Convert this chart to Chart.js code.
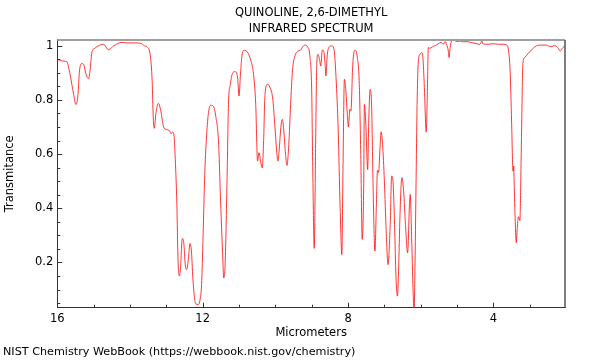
<!DOCTYPE html>
<html>
<head>
<meta charset="utf-8">
<script src="https://cdn.jsdelivr.net/npm/chart.js@4.4.1/dist/chart.umd.min.js"></script>
<style>
	html, body { margin: 0; background: #fff; }
	#wrap { width: 600px; height: 360px; }
</style>
</head>
<body>
<div id="wrap"><canvas id="chartCanvas" width="600" height="360"></canvas></div>
<script>
const titleLines = ["QUINOLINE, 2,6-DIMETHYL", "INFRARED SPECTRUM"]
const footer = "NIST Chemistry WebBook (https://webbook.nist.gov/chemistry)"

const micrometers = [
	16.00, 15.92, 15.83, 15.74, 15.65, 15.55, 15.49, 15.43, 15.39, 15.32,
	15.27, 15.21, 15.14, 15.10, 15.05, 14.98, 14.83, 14.73, 14.59, 14.45,
	14.22, 14.08, 13.86, 13.69, 13.60, 13.53, 13.44, 13.39, 13.36, 13.33,
	13.29, 13.22, 13.16, 13.08, 13.01, 12.92, 12.87, 12.83, 12.79, 12.76,
	12.71, 12.68, 12.64, 12.61, 12.56, 12.52, 12.48, 12.44, 12.39, 12.35,
	12.31, 12.27, 12.23, 12.19, 12.12, 12.08, 12.03, 11.99, 11.94, 11.89,
	11.84, 11.78, 11.71, 11.64, 11.56, 11.51, 11.45, 11.42, 11.38, 11.33,
	11.29, 11.24, 11.18, 11.11, 11.04, 11.00, 10.96, 10.92, 10.85, 10.76,
	10.67, 10.60, 10.54, 10.49, 10.45, 10.40, 10.36, 10.32, 10.29, 10.22,
	10.15, 10.07, 10.01, 9.96, 9.93, 9.89, 9.85, 9.81, 9.77, 9.72,
	9.68, 9.63, 9.58, 9.53, 9.46, 9.38, 9.31, 9.25, 9.19, 9.11,
	9.05, 9.00, 8.97, 8.93, 8.89, 8.86, 8.83, 8.79, 8.75, 8.71,
	8.67, 8.63, 8.61, 8.57, 8.51, 8.44, 8.38, 8.33, 8.27, 8.22,
	8.17, 8.14, 8.10, 8.06, 8.02, 7.99, 7.95, 7.92, 7.87, 7.81,
	7.75, 7.69, 7.65, 7.61, 7.57, 7.55, 7.51, 7.46, 7.43, 7.39,
	7.35, 7.31, 7.26, 7.22, 7.19, 7.16, 7.12, 7.09, 7.05, 7.00,
	6.95, 6.90, 6.84, 6.80, 6.76, 6.72, 6.68, 6.64, 6.61, 6.57,
	6.52, 6.47, 6.42, 6.36, 6.31, 6.29, 6.25, 6.20, 6.18, 6.16,
	6.13, 6.10, 6.07, 6.02, 5.97, 5.94, 5.90, 5.86, 5.85, 5.82,
	5.79, 5.75, 5.68, 5.63, 5.57, 5.52, 5.44, 5.38, 5.33, 5.29,
	5.24, 5.22, 5.19, 5.15, 5.08, 5.01, 4.92, 4.83, 4.73, 4.60,
	4.46, 4.37, 4.32, 4.28, 4.14, 4.00, 3.86, 3.73, 3.63, 3.59,
	3.54, 3.50, 3.46, 3.44, 3.43, 3.40, 3.37, 3.35, 3.31, 3.27,
	3.25, 3.22, 3.19, 3.14, 3.05, 2.96, 2.82, 2.68, 2.55, 2.41,
	2.32, 2.23, 2.16, 2.09, 2.03,
]

const transmittance = [
	0.949, 0.946, 0.943, 0.941, 0.894, 0.820, 0.783, 0.820, 0.907, 0.934,
	0.929, 0.894, 0.878, 0.907, 0.974, 0.989, 1.002, 1.005, 0.985, 0.999,
	1.012, 1.010, 1.010, 1.008, 0.999, 0.995, 0.962, 0.870, 0.734, 0.695,
	0.746, 0.787, 0.765, 0.703, 0.691, 0.687, 0.675, 0.681, 0.670, 0.599,
	0.414, 0.217, 0.150, 0.180, 0.288, 0.273, 0.192, 0.174, 0.217, 0.270,
	0.242, 0.143, 0.076, 0.047, 0.045, 0.057, 0.119, 0.291, 0.537, 0.672,
	0.753, 0.780, 0.777, 0.740, 0.636, 0.439, 0.229, 0.143, 0.200, 0.500,
	0.783, 0.857, 0.897, 0.904, 0.882, 0.814, 0.894, 0.962, 0.983, 0.974,
	0.943, 0.894, 0.783, 0.574, 0.605, 0.568, 0.549, 0.660, 0.808, 0.857,
	0.847, 0.802, 0.697, 0.605, 0.574, 0.623, 0.697, 0.728, 0.691, 0.599,
	0.558, 0.636, 0.783, 0.907, 0.962, 0.980, 0.983, 0.995, 1.002, 0.995,
	0.962, 0.833, 0.537, 0.252, 0.660, 0.931, 0.968, 0.953, 0.925, 0.983,
	0.980, 0.931, 0.888, 0.968, 0.996, 0.999, 0.980, 0.882, 0.685, 0.414,
	0.229, 0.537, 0.876, 0.833, 0.746, 0.700, 0.765, 0.759, 0.931, 0.983,
	0.962, 0.857, 0.599, 0.285, 0.476, 0.783, 0.709, 0.543, 0.722, 0.839,
	0.771, 0.476, 0.242, 0.414, 0.540, 0.531, 0.623, 0.682, 0.636, 0.500,
	0.316, 0.192, 0.340, 0.519, 0.494, 0.340, 0.143, 0.076, 0.168, 0.377,
	0.513, 0.463, 0.340, 0.236, 0.414, 0.451, 0.291, 0.057, 0.020, 0.168,
	0.476, 0.783, 0.931, 0.968, 0.974, 0.956, 0.845, 0.697, 0.681, 0.808,
	0.993, 0.990, 0.995, 0.999, 1.002, 1.007, 1.012, 1.005, 1.015, 1.005,
	0.980, 0.956, 0.993, 1.017, 1.020, 1.015, 1.017, 1.014, 1.015, 1.011,
	1.007, 1.005, 1.017, 1.006, 1.005, 1.007, 1.005, 1.005, 1.002, 0.987,
	0.907, 0.722, 0.537, 0.556, 0.500, 0.353, 0.273, 0.316, 0.369, 0.355,
	0.476, 0.722, 0.931, 0.956, 0.970, 0.983, 0.999, 1.002, 1.002, 0.996,
	1.000, 0.993, 0.980, 0.993, 0.999,
]

const xTicks = [16, 12, 8, 4]
const yTicks = [0.2, 0.4, 0.6, 0.8, 1]
const xMinorStep = 1
const yMinorStep = 0.05

Chart.defaults.font.family = "'DejaVu Sans', sans-serif"
Chart.defaults.font.size = 11.5
Chart.defaults.color = '#000'

// frame on top/right and inward tick marks, like the NIST plots
const framePlugin = {
	id: 'frame',
	afterDraw(chart) {
		const ctx = chart.ctx
		const a = chart.chartArea
		const xs = chart.scales.x
		const ys = chart.scales.y
		ctx.save()
		ctx.strokeStyle = '#a0a0a0'
		ctx.lineWidth = 2
		ctx.beginPath()
		ctx.moveTo(a.left, a.top)
		ctx.lineTo(a.right, a.top)
		ctx.stroke()
		ctx.strokeStyle = '#555'
		ctx.lineWidth = 1.5
		ctx.beginPath()
		ctx.moveTo(a.right, a.top)
		ctx.lineTo(a.right, a.bottom)
		ctx.stroke()

		ctx.strokeStyle = '#333'
		ctx.lineWidth = 1
		ctx.beginPath()
		for (let v = Math.ceil(xs.min); v <= xs.max; v += xMinorStep) {
			let px = Math.round(xs.getPixelForValue(v)) + 0.5
			let len = xTicks.includes(v) ? 5 : 3
			ctx.moveTo(px, a.bottom)
			ctx.lineTo(px, a.bottom - len)
		}
		for (let i = 1; i * yMinorStep <= ys.max; i++) {
			let v = +(i * yMinorStep).toFixed(2)
			let py = Math.round(ys.getPixelForValue(v)) + 0.5
			let len = yTicks.includes(v) ? 5 : 3
			ctx.moveTo(a.left, py)
			ctx.lineTo(a.left + len, py)
		}
		ctx.stroke()
		ctx.restore()
	}
}

const canvas = document.getElementById("chartCanvas")
const chart = new Chart(canvas, {
	type: 'line',
	data: {
		datasets: [{
			label: 'Transmitance',
			data: micrometers.map((x, i) => ({ x: x, y: transmittance[i] })),
			borderColor: 'rgba(255, 20, 20, 0.85)',
			borderWidth: 1,
			pointRadius: 0,
			cubicInterpolationMode: 'monotone',
			fill: false,
		}],
	},
	options: {
		responsive: false,
		animation: false,
		devicePixelRatio: 1,
		layout: {
			padding: { left: 3, right: 35, top: 0, bottom: 0 },
		},
		plugins: {
			legend: { display: false },
			tooltip: { enabled: false },
			title: {
				display: true,
				text: titleLines,
				fullSize: false,
				font: { size: 11.5, weight: 'normal', lineHeight: 1.45 },
				padding: { top: 4.3, bottom: 2.3 },
			},
			subtitle: {
				display: true,
				text: footer,
				position: 'bottom',
				align: 'start',
				font: { size: 11.2, lineHeight: 1.23 },
				padding: { top: 0, bottom: 1 },
			},
		},
		scales: {
			x: {
				type: 'linear',
				reverse: true,
				min: 2.03,
				max: 16,
				afterBuildTicks: (scale) => {
					scale.ticks = xTicks.map(v => ({ value: v }))
				},
				afterFit: (scale) => {
					scale.height = 37.5
				},
				ticks: {
					padding: 4,
					maxRotation: 0,
					callback: (v) => String(v),
				},
				grid: { display: false, drawTicks: false },
				border: { display: true, color: '#333', width: 1 },
				title: {
					display: true,
					text: 'Micrometers',
					padding: { top: 0, bottom: 5.6 },
				},
			},
			y: {
				type: 'linear',
				min: 0.033,
				max: 1.021,
				afterBuildTicks: (scale) => {
					scale.ticks = yTicks.map(v => ({ value: v }))
				},
				afterFit: (scale) => {
					scale.width = 54.3
				},
				ticks: {
					padding: 4,
					callback: (v) => String(v),
				},
				grid: { display: false, drawTicks: false },
				border: { display: true, color: '#333', width: 1 },
				title: {
					display: true,
					text: 'Transmitance',
					padding: { top: 0.5, bottom: 0 },
				},
			},
		},
	},
	plugins: [framePlugin],
})
</script>
</body>
</html>
